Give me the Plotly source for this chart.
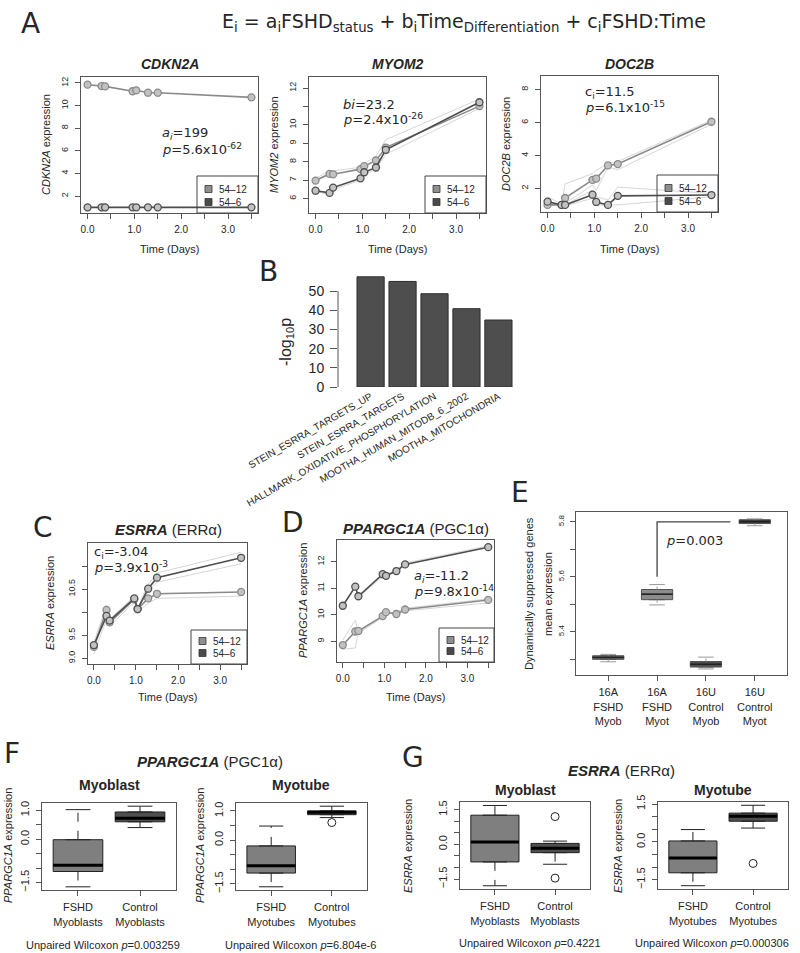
import plotly.graph_objects as go

W, H = 800, 953
ARIAL = "Liberation Sans, Arial, Helvetica, sans-serif"
DEJAVU = "DejaVu Sans, Verdana, sans-serif"
TXT = "#262626"
AXC = "#555555"
C12 = "#8a8a8a"
C6 = "#4d4d4d"

# ================= DATA =================
time_days = [0, 0.3, 0.375, 0.96, 1.04, 1.29, 1.5, 3.5]
time_ticks = [0, 0.5, 1.0, 1.5, 2.0, 2.5, 3.0, 3.5]
time_labeled = [0.0, 1.0, 2.0, 3.0]
time_tick_labels = ["0.0", "1.0", "2.0", "3.0"]
cell_lines = ["54\u201312", "54\u20136"]

cdkn2a_54_12 = [11.85, 11.73, 11.70, 11.27, 11.35, 11.14, 11.14, 10.73]
cdkn2a_54_6 = [1.0, 1.0, 1.0, 1.0, 1.0, 1.0, 1.0, 1.0]
cdkn2a_ticks = [2, 4, 6, 8, 10, 12]
cdkn2a_labeled = [2, 4, 6, 8, 10, 12]

myom2_54_12 = [6.98, 7.34, 7.32, 7.60, 7.76, 8.07, 8.77, 11.02]
myom2_54_6 = [6.43, 6.31, 6.60, 7.10, 7.43, 7.69, 8.65, 11.23]
myom2_rep_hi = [7.10, 7.50, 7.50, 7.70, 7.90, 8.30, 9.20, 11.40]
myom2_rep_lo = [6.40, 6.20, 6.50, 7.00, 7.30, 7.60, 8.40, 10.90]
myom2_ticks = [6, 7, 8, 9, 10, 11, 12]
myom2_labeled = [6, 7, 8, 9, 10, 12]

doc2b_54_12 = [1.0, 1.0, 1.42, 2.52, 2.60, 3.40, 3.48, 6.05]
doc2b_54_6 = [1.2, 1.0, 1.0, 1.62, 1.18, 1.0, 1.55, 1.60]
doc2b_rep_a = [1.5, 1.05, 2.28, 2.9, 3.1, 3.5, 3.64, 6.15]
doc2b_rep_b = [1.0, 0.95, 1.1, 2.2, 1.88, 3.3, 3.14, 5.9]
doc2b_rep_c = [1.2, 1.0, 1.0, 1.9, 1.5, 1.3, 2.08, 1.7]
doc2b_rep_d = [1.0, 0.95, 0.95, 1.4, 1.0, 1.0, 1.0, 1.5]
doc2b_ticks = [2, 4, 6, 8]
doc2b_labeled = [2, 4, 6, 8]

esrra_54_12 = [9.25, 10.05, 9.78, 10.28, 10.07, 10.30, 10.40, 10.44]
esrra_54_6 = [9.29, 9.92, 9.82, 10.30, 10.07, 10.51, 10.75, 11.18]
esrra_rep_a = [9.35, 10.15, 9.85, 10.35, 10.10, 10.60, 10.85, 11.30]
esrra_rep_b = [9.10, 9.85, 9.70, 10.22, 10.00, 10.20, 10.30, 10.35]
esrra_rep_c = [9.30, 9.90, 9.75, 10.30, 10.05, 10.45, 10.65, 11.05]
esrra_ticks = [9.0, 9.5, 10.0, 10.5, 11.0]
esrra_labeled = [9.0, 9.5, 10.5]

pgc1a_54_12 = [8.86, 9.37, 9.39, 9.95, 10.10, 10.03, 10.20, 10.56]
pgc1a_54_6 = [10.34, 11.06, 10.70, 11.53, 11.47, 11.65, 11.90, 12.55]
pgc1a_rep_a = [9.05, 9.80, 9.30, 9.90, 10.05, 10.10, 10.25, 10.60]
pgc1a_rep_b = [8.70, 8.75, 9.35, 9.95, 10.10, 10.00, 10.15, 10.45]
pgc1a_rep_c = [10.35, 11.05, 10.65, 11.45, 11.50, 11.70, 11.95, 12.60]
pgc1a_ticks = [9, 10, 11, 12]
pgc1a_labeled = [9, 10, 11, 12]

gene_sets = ["STEIN_ESRRA_TARGETS_UP", "STEIN_ESRRA_TARGETS",
             "HALLMARK_OXIDATIVE_PHOSPHORYLATION", "MOOTHA_HUMAN_MITODB_6_2002",
             "MOOTHA_MITOCHONDRIA"]
neg_log10_p = [57.4, 55.0, 48.6, 40.8, 34.9]
b_ticks = [0, 10, 20, 30, 40, 50]

e_groups = ["16A<br>FSHD<br>Myob", "16A<br>FSHD<br>Myot", "16U<br>Control<br>Myob", "16U<br>Control<br>Myot"]
e_q1 = [5.300, 5.517, 5.272, 5.794]
e_median = [5.307, 5.537, 5.282, 5.801]
e_q3 = [5.313, 5.554, 5.292, 5.808]
e_low = [5.291, 5.498, 5.265, 5.786]
e_high = [5.318, 5.572, 5.308, 5.811]
e_ticks = [5.3, 5.4, 5.5, 5.6, 5.7, 5.8]
e_labeled = [5.4, 5.6, 5.8]
e_bracket_x = [2, 2, 3.5]
e_bracket_y = [5.6, 5.8, 5.8]

myoblast_groups = ["FSHD<br>Myoblasts", "Control<br>Myoblasts"]
myotube_groups = ["FSHD<br>Myotubes", "Control<br>Myotubes"]

pgc_mb_q1 = [-1.12, 0.60]; pgc_mb_med = [-0.90, 0.72]; pgc_mb_q3 = [-0.02, 0.94]
pgc_mb_low = [-1.65, 0.40]; pgc_mb_high = [1.02, 1.14]; pgc_mb_out = [[], []]
pgc_mt_q1 = [-1.13, 0.87]; pgc_mt_med = [-0.88, 0.95]; pgc_mt_q3 = [-0.20, 1.00]
pgc_mt_low = [-1.60, 0.77]; pgc_mt_high = [0.48, 1.16]; pgc_mt_out = [[], [0.60]]
f_ticks = [-1.5, -1.0, -0.5, 0.0, 0.5, 1.0]
f_labeled = [-1.5, 0.0, 1.0]

esr_mb_q1 = [-0.76, -0.36]; esr_mb_med = [0.10, -0.17]; esr_mb_q3 = [1.26, 0.04]
esr_mb_low = [-1.79, -0.86]; esr_mb_high = [1.68, 0.14]; esr_mb_out = [[], [1.20, -1.46]]
esr_mt_q1 = [-1.22, 0.82]; esr_mt_med = [-0.63, 1.02]; esr_mt_q3 = [0.04, 1.14]
esr_mt_low = [-1.73, 0.55]; esr_mt_high = [0.49, 1.45]; esr_mt_out = [[], [-0.85]]
g_ticks = [-1.5, -1.0, -0.5, 0.0, 0.5, 1.0, 1.5]
g_labeled = [-1.5, 0.0, 1.5]

# ================= FIGURE =================
fig = go.Figure()
layout = {}
annotations = []
shapes = []


def fmt(v, nd):
    s = f"{v:.{nd}f}"
    return s.replace("-", "\u2212")


def ax_names(i):
    s = "" if i == 1 else str(i)
    return "xaxis" + s, "yaxis" + s, "x" + s, "y" + s


def make_axes(i, box, xrange, yrange, xvals, xlabels, xminor, yvals, ylabels, yminor,
              frame=True, xfont=10, yfont=9, ytickangle=-90, xtickangle=0,
              ticklen=5, xstand=2, ystand=3):
    xk, yk, xr, yr = ax_names(i)
    x0, x1, y0, y1 = box
    common = dict(showgrid=False, zeroline=False, ticks="outside", ticklen=ticklen,
                  tickwidth=1, tickcolor=AXC, showline=frame, linecolor=AXC,
                  linewidth=1, mirror=frame, fixedrange=True, tickmode="array",
                  automargin=False)
    layout[xk] = dict(domain=[x0 / W, x1 / W], range=xrange, anchor=yr,
                      tickvals=xvals, ticktext=xlabels,
                      minor=dict(tickmode="array", tickvals=xminor, ticks="outside",
                                 ticklen=ticklen, tickcolor=AXC, showgrid=False),
                      tickfont=dict(family=ARIAL, size=xfont, color=TXT),
                      tickangle=xtickangle, ticklabelstandoff=xstand, **common)
    layout[yk] = dict(domain=[1 - y1 / H, 1 - y0 / H], range=yrange, anchor=xr,
                      tickvals=yvals, ticktext=ylabels,
                      minor=dict(tickmode="array", tickvals=yminor, ticks="outside",
                                 ticklen=ticklen, tickcolor=AXC, showgrid=False),
                      tickfont=dict(family=ARIAL, size=yfont, color=TXT),
                      tickangle=ytickangle, ticklabelstandoff=ystand, **common)
    return xr, yr


def text(t, x, y, size, family=ARIAL, xanchor="center", yanchor="middle", angle=0, color=TXT):
    annotations.append(dict(text=t, x=x / W, y=1 - y / H, xref="paper", yref="paper",
                            xanchor=xanchor, yanchor=yanchor, showarrow=False,
                            textangle=angle, font=dict(family=family, size=size, color=color)))


def line_panel(i, box, yrange, yticks, ylabeled, nd, s12, s6, reps):
    xr, yr = make_axes(i, box, [-0.14, 3.64], yrange,
                       time_labeled, time_tick_labels, time_ticks,
                       ylabeled, [fmt(v, nd) for v in ylabeled], yticks)
    for rep in reps:
        fig.add_trace(go.Scatter(x=time_days, y=rep, mode="lines",
                                 line=dict(color="#d6d6d6", width=1),
                                 xaxis=xr, yaxis=yr, hoverinfo="skip"))
    for vals, col in ((s12, C12), (s6, C6)):
        fig.add_trace(go.Scatter(x=time_days, y=vals, mode="lines+markers",
                                 line=dict(color=col, width=1.6),
                                 marker=dict(symbol="circle", size=7, color="#c2c2c2",
                                             line=dict(color=col, width=1.3)),
                                 xaxis=xr, yaxis=yr, hoverinfo="skip"))


def legend(box, w, h, offs):
    x0, x1, y0, y1 = box
    lx0, ly0 = x1 - w, y1 - h
    shapes.append(dict(type="rect", xref="paper", yref="paper", x0=lx0 / W, x1=x1 / W,
                       y0=1 - y1 / H, y1=1 - ly0 / H, line=dict(color="#444", width=1),
                       fillcolor="rgba(0,0,0,0)"))
    for k, (name, col) in enumerate(zip(cell_lines, ("#8f8f8f", "#4a4a4a"))):
        cy = ly0 + offs[k]
        shapes.append(dict(type="rect", xref="paper", yref="paper",
                           x0=(lx0 + 8) / W, x1=(lx0 + 15) / W,
                           y0=1 - (cy + 3.5) / H, y1=1 - (cy - 3.5) / H,
                           fillcolor=col, line=dict(color="#333", width=0.8)))
        text(name, lx0 + 20, cy, 10, xanchor="left")


def box_panel(i, box, xrange, yrange, groups, q1, med, q3, lo, hi, outs, fills,
              yticks, ylabeled, bw=0.8, yfont=11, xfont=11, edge="#222",
              medcol="#000", medw=3, wcol="#222", wdash="dash"):
    positions = list(range(1, len(groups) + 1))
    xr, yr = make_axes(i, box, xrange, yrange, positions, groups, positions,
                       ylabeled, [fmt(v, 1) for v in ylabeled], yticks,
                       xfont=xfont, yfont=yfont, ticklen=5, xstand=2, ystand=3)
    for p, a, m, b, l, h, o, f in zip(positions, q1, med, q3, lo, hi, outs, fills):
        fig.add_trace(go.Scatter(x=[p, p, None, p, p], y=[b, h, None, a, l], mode="lines",
                                 line=dict(color=wcol, width=1, dash=wdash),
                                 xaxis=xr, yaxis=yr, hoverinfo="skip"))
        fig.add_trace(go.Scatter(x=[p - bw / 4, p + bw / 4, None, p - bw / 4, p + bw / 4],
                                 y=[h, h, None, l, l], mode="lines",
                                 line=dict(color=wcol, width=1),
                                 xaxis=xr, yaxis=yr, hoverinfo="skip"))
        fig.add_trace(go.Box(x=[p], q1=[a], median=[m], q3=[b], lowerfence=[a],
                             upperfence=[b], width=bw, fillcolor=f,
                             line=dict(color=edge, width=1), boxpoints=False,
                             xaxis=xr, yaxis=yr, hoverinfo="skip"))
        fig.add_trace(go.Scatter(x=[p - bw / 2, p + bw / 2], y=[m, m], mode="lines",
                                 line=dict(color=medcol, width=medw),
                                 xaxis=xr, yaxis=yr, hoverinfo="skip"))
        if o:
            fig.add_trace(go.Scatter(x=[p] * len(o), y=o, mode="markers",
                                     marker=dict(symbol="circle-open", size=8,
                                                 color="#222", line=dict(width=1)),
                                     xaxis=xr, yaxis=yr, hoverinfo="skip"))
    return xr, yr


# ---------- Panel A ----------
text("A", 30, 23, 28, family=DEJAVU)
text("E<sub>i</sub> = a<sub>i</sub>FSHD<sub>status</sub> + b<sub>i</sub>Time<sub>Differentiation</sub>"
     " + c<sub>i</sub>FSHD:Time", 464, 22, 19, family=DEJAVU)

A_boxes = [(81, 258, 77, 213), (309, 486, 77, 213), (541, 718, 76, 212)]
line_panel(1, A_boxes[0], [0.5, 12.53], cdkn2a_ticks, cdkn2a_labeled, 0,
           cdkn2a_54_12, cdkn2a_54_6, [])
line_panel(2, A_boxes[1], [5.22, 12.6], myom2_ticks, myom2_labeled, 0,
           myom2_54_12, myom2_54_6, [myom2_rep_hi, myom2_rep_lo])
line_panel(3, A_boxes[2], [0.57, 8.83], doc2b_ticks, doc2b_labeled, 0,
           doc2b_54_12, doc2b_54_6, [doc2b_rep_a, doc2b_rep_b, doc2b_rep_c, doc2b_rep_d])

for (x0, x1, y0, y1), title, ytitle in zip(
        A_boxes, ["CDKN2A", "MYOM2", "DOC2B"],
        ["<i>CDKN2A</i> expression", "<i>MYOM2</i> expression", "<i>DOC2B</i> expression"]):
    text("<b><i>" + title + "</i></b>", (x0 + x1) / 2, 64, 14)
    text(ytitle, x0 - 35, (y0 + y1) / 2, 11, angle=-90)
    text("Time (Days)", (x0 + x1) / 2, 249, 11)
    legend((x0, x1, y0, y1), 61, 37, (13, 26))

text("<i>a<sub>i</sub></i>=199", 160, 134, 13, family=DEJAVU, xanchor="left")
text("<i>p</i>=5.6x10<sup>-62</sup>", 160, 149, 13, family=DEJAVU, xanchor="left")
text("<i>bi</i>=23.2", 341, 104, 13, family=DEJAVU, xanchor="left")
text("<i>p</i>=2.4x10<sup>-26</sup>", 341, 119, 13, family=DEJAVU, xanchor="left")
text("c<sub>i</sub>=11.5", 583, 92, 13, family=DEJAVU, xanchor="left")
text("<i>p</i>=6.1x10<sup>-15</sup>", 583, 107, 13, family=DEJAVU, xanchor="left")

# ---------- Panel B ----------
text("B", 268, 272, 28, family=DEJAVU)
B_box = (338, 516, 268, 387)
xk, yk, xr, yr = ax_names(4)
layout[xk] = dict(domain=[B_box[0] / W, B_box[1] / W], range=[-1.02, 4.55], anchor=yr,
                  showgrid=False, zeroline=False, showline=False, ticks="",
                  tickangle=-30, tickfont=dict(family=ARIAL, size=10, color=TXT),
                  ticklabelstandoff=1, fixedrange=True, automargin=False)
layout[yk] = dict(domain=[1 - B_box[3] / H, 1 - B_box[2] / H], range=[0, 62], anchor=xr,
                  showgrid=False, zeroline=False, showline=False, ticks="outside",
                  ticklen=7, tickcolor=AXC, tickmode="array", tickvals=b_ticks,
                  tickfont=dict(family=ARIAL, size=14, color=TXT),
                  ticklabelstandoff=3, fixedrange=True, automargin=False)
fig.add_trace(go.Bar(x=gene_sets, y=neg_log10_p, width=0.85,
                     marker=dict(color="#4e4e4e", line=dict(color="#2e2e2e", width=1)),
                     xaxis=xr, yaxis=yr, hoverinfo="skip"))
shapes.append(dict(type="line", xref="paper", yref=yr, x0=B_box[0] / W, x1=B_box[0] / W,
                   y0=min(b_ticks), y1=max(b_ticks), line=dict(color=AXC, width=1)))
text("-log<sub>10</sub>p", 287, 342, 16, angle=-90)

# ---------- Panel C ----------
text("C", 43, 527, 28, family=DEJAVU)
C_box = (88, 247, 543, 664)
line_panel(5, C_box, [8.88, 11.5], esrra_ticks, esrra_labeled, 1,
           esrra_54_12, esrra_54_6, [esrra_rep_a, esrra_rep_b, esrra_rep_c])
text("<b><i>ESRRA</i></b> (ERR\u03b1)", 168, 529, 15)
text("<i>ESRRA</i> expression", 50, 603, 11, angle=-90)
text("Time (Days)", 167, 697, 11)
text("c<sub>i</sub>=-3.04", 92, 552, 13, family=DEJAVU, xanchor="left")
text("<i>p</i>=3.9x10<sup>-3</sup>", 92, 567, 13, family=DEJAVU, xanchor="left")
legend(C_box, 56, 34, (11, 23))

# ---------- Panel D ----------
text("D", 293, 522, 28, family=DEJAVU)
D_box = (337, 494, 540, 662)
line_panel(6, D_box, [8.22, 12.82], pgc1a_ticks, pgc1a_labeled, 0,
           pgc1a_54_12, pgc1a_54_6, [pgc1a_rep_a, pgc1a_rep_b, pgc1a_rep_c])
text("<b><i>PPARGC1A</i></b> (PGC1\u03b1)", 416, 528, 15)
text("<i>PPARGC1A</i> expression", 303, 601, 11, angle=-90)
text("Time (Days)", 415, 697, 11)
text("<i>a<sub>i</sub></i>=-11.2", 412, 576, 13, family=DEJAVU, xanchor="left")
text("<i>p</i>=9.8x10<sup>-14</sup>", 412, 591, 13, family=DEJAVU, xanchor="left")
legend(D_box, 55, 34, (12, 23))

# ---------- Panel E ----------
text("E", 520, 492, 28, family=DEJAVU)
E_box = (576, 787, 512, 675)
box_panel(7, E_box, [0.34, 4.66], [5.243, 5.836], e_groups, e_q1, e_median, e_q3,
          e_low, e_high, [[], [], [], []], ["#6a6a6a", "#8c8c8c", "#505050", "#3c3c3c"],
          e_ticks, e_labeled, bw=0.64, yfont=8, xfont=11, edge="#555",
          medcol="#222", medw=1.5, wcol="#999", wdash="dot")
fig.add_trace(go.Scatter(x=e_bracket_x, y=e_bracket_y, mode="lines",
                         line=dict(color="#444", width=1.3), xaxis="x7", yaxis="y7",
                         hoverinfo="skip"))
text("<i>p</i>=0.003", 694, 540, 13, family=DEJAVU)
text("Dynamically suppressed genes", 529, 594, 11, angle=-90)
text("mean expression", 548, 594, 11, angle=-90)

# ---------- Panel F ----------
text("F", 12, 753, 28, family=DEJAVU)
text("<b><i>PPARGC1A</i></b> (PGC1\u03b1)", 210, 761, 15)
F1_box = (42, 176, 803, 890)
F2_box = (236, 367, 803, 890)
box_panel(8, F1_box, [0.42, 2.58], [-1.76, 1.25], myoblast_groups, pgc_mb_q1, pgc_mb_med,
          pgc_mb_q3, pgc_mb_low, pgc_mb_high, pgc_mb_out, ["#7f7f7f", "#4f4f4f"],
          f_ticks, f_labeled)
box_panel(9, F2_box, [0.42, 2.58], [-1.71, 1.27], myotube_groups, pgc_mt_q1, pgc_mt_med,
          pgc_mt_q3, pgc_mt_low, pgc_mt_high, pgc_mt_out, ["#7f7f7f", "#4f4f4f"],
          f_ticks, f_labeled)
text("<b>Myoblast</b>", 109, 785, 14)
text("<b>Myotube</b>", 301, 785, 14)
text("<i>PPARGC1A</i> expression", 8, 846, 11, angle=-90)
text("<i>PPARGC1A</i> expression", 200, 846, 11, angle=-90)
text("Unpaired Wilcoxon <i>p</i>=0.003259", 103, 945, 11)
text("Unpaired Wilcoxon <i>p</i>=6.804e-6", 300, 945, 11)

# ---------- Panel G ----------
text("G", 413, 757, 28, family=DEJAVU)
text("<b><i>ESRRA</i></b> (ERR\u03b1)", 621, 770, 15)
G1_box = (460, 590, 802, 889)
G2_box = (658, 788, 802, 889)
box_panel(10, G1_box, [0.42, 2.58], [-1.93, 1.83], myoblast_groups, esr_mb_q1, esr_mb_med,
          esr_mb_q3, esr_mb_low, esr_mb_high, esr_mb_out, ["#7f7f7f", "#4f4f4f"],
          g_ticks, g_labeled)
box_panel(11, G2_box, [0.42, 2.58], [-1.86, 1.58], myotube_groups, esr_mt_q1, esr_mt_med,
          esr_mt_q3, esr_mt_low, esr_mt_high, esr_mt_out, ["#7f7f7f", "#4f4f4f"],
          g_ticks, g_labeled)
text("<b>Myoblast</b>", 525, 790, 14)
text("<b>Myotube</b>", 723, 790, 14)
text("<i>ESRRA</i> expression", 408, 846, 11, angle=-90)
text("<i>ESRRA</i> expression", 618, 846, 11, angle=-90)
text("Unpaired Wilcoxon <i>p</i>=0.4221", 530, 943, 11)
text("Unpaired Wilcoxon <i>p</i>=0.000306", 712, 943, 11)

fig.update_layout(width=W, height=H, margin=dict(l=0, r=0, t=0, b=0, autoexpand=False),
                  paper_bgcolor="white", plot_bgcolor="white", showlegend=False,
                  annotations=annotations, shapes=shapes, **layout)
fig.write_html("out.html", config={"displayModeBar": False, "staticPlot": True},
               post_script="document.body.style.margin='0';document.body.style.padding='0';")
